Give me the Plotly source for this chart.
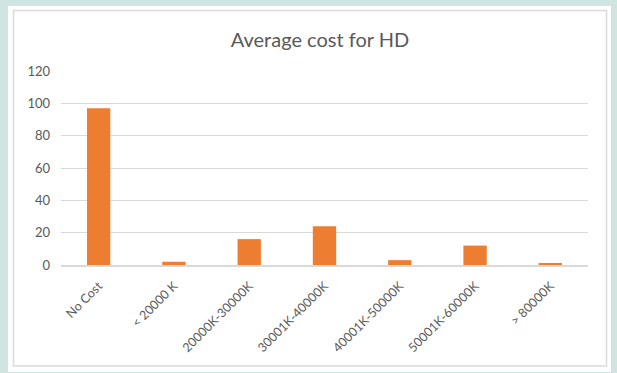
import plotly.graph_objects as go

categories = ["No Cost", "< 20000 K", "20000K-30000K", "30001K-40000K",
              "40001K-50000K", "50001K-60000K", "> 80000K"]
values = [97, 2, 16, 24, 3, 12, 1]
y_ticks = [0, 20, 40, 60, 80, 100, 120]

W, H = 617, 373
L, R, T, B = 61, 29, 71, 108
pw, ph = W - L - R, H - T - B

def px_x(x):
    return (x - L) / pw

def px_y(y):
    return (H - B - y) / ph

fig = go.Figure(go.Bar(
    x=categories, y=values,
    marker=dict(color="#ed7d31", line=dict(width=0)),
    width=0.31,
))

fig.update_layout(
    width=W, height=H,
    margin=dict(l=L, r=R, t=T, b=B, autoexpand=False),
    paper_bgcolor="#d0e4e2",
    plot_bgcolor="rgba(0,0,0,0)",
    font=dict(family="Lato, 'Open Sans', sans-serif", color="#595959"),
    title=dict(text="Average cost for HD", x=px_x(320), xref="paper", xanchor="center",
               y=1 - 40 / H, yanchor="middle",
               font=dict(size=20, color="#595959")),
    showlegend=False,
    bargap=0.69,
    shapes=[
        dict(type="rect", xref="paper", yref="paper", layer="below",
             x0=px_x(8), x1=px_x(611), y0=px_y(372), y1=px_y(6),
             fillcolor="white", line=dict(width=0)),
        dict(type="rect", xref="paper", yref="paper", layer="below",
             x0=px_x(13.5), x1=px_x(606.5), y0=px_y(366), y1=px_y(10.5),
             fillcolor="white", line=dict(color="#dadada", width=1.5)),
    ],
)

fig.update_xaxes(
    tickangle=-45, tickfont=dict(size=12.5, color="#595959"),
    showline=True, linecolor="#d9d9d9", linewidth=1.5,
    showgrid=False, ticks="", ticklen=0, ticklabelstandoff=7,
)
fig.update_yaxes(
    range=[0, 120], tickvals=y_ticks, ticktext=[str(v) for v in y_ticks],
    tickfont=dict(size=13, color="#595959"),
    showgrid=True, gridcolor="#d9d9d9", gridwidth=1.3,
    zeroline=False, showline=False, ticks="", ticklabelstandoff=10,
)

fig.write_html(
    "out.html",
    config={"displayModeBar": False},
    post_script="document.body.style.margin='0';document.body.style.padding='0';",
)
